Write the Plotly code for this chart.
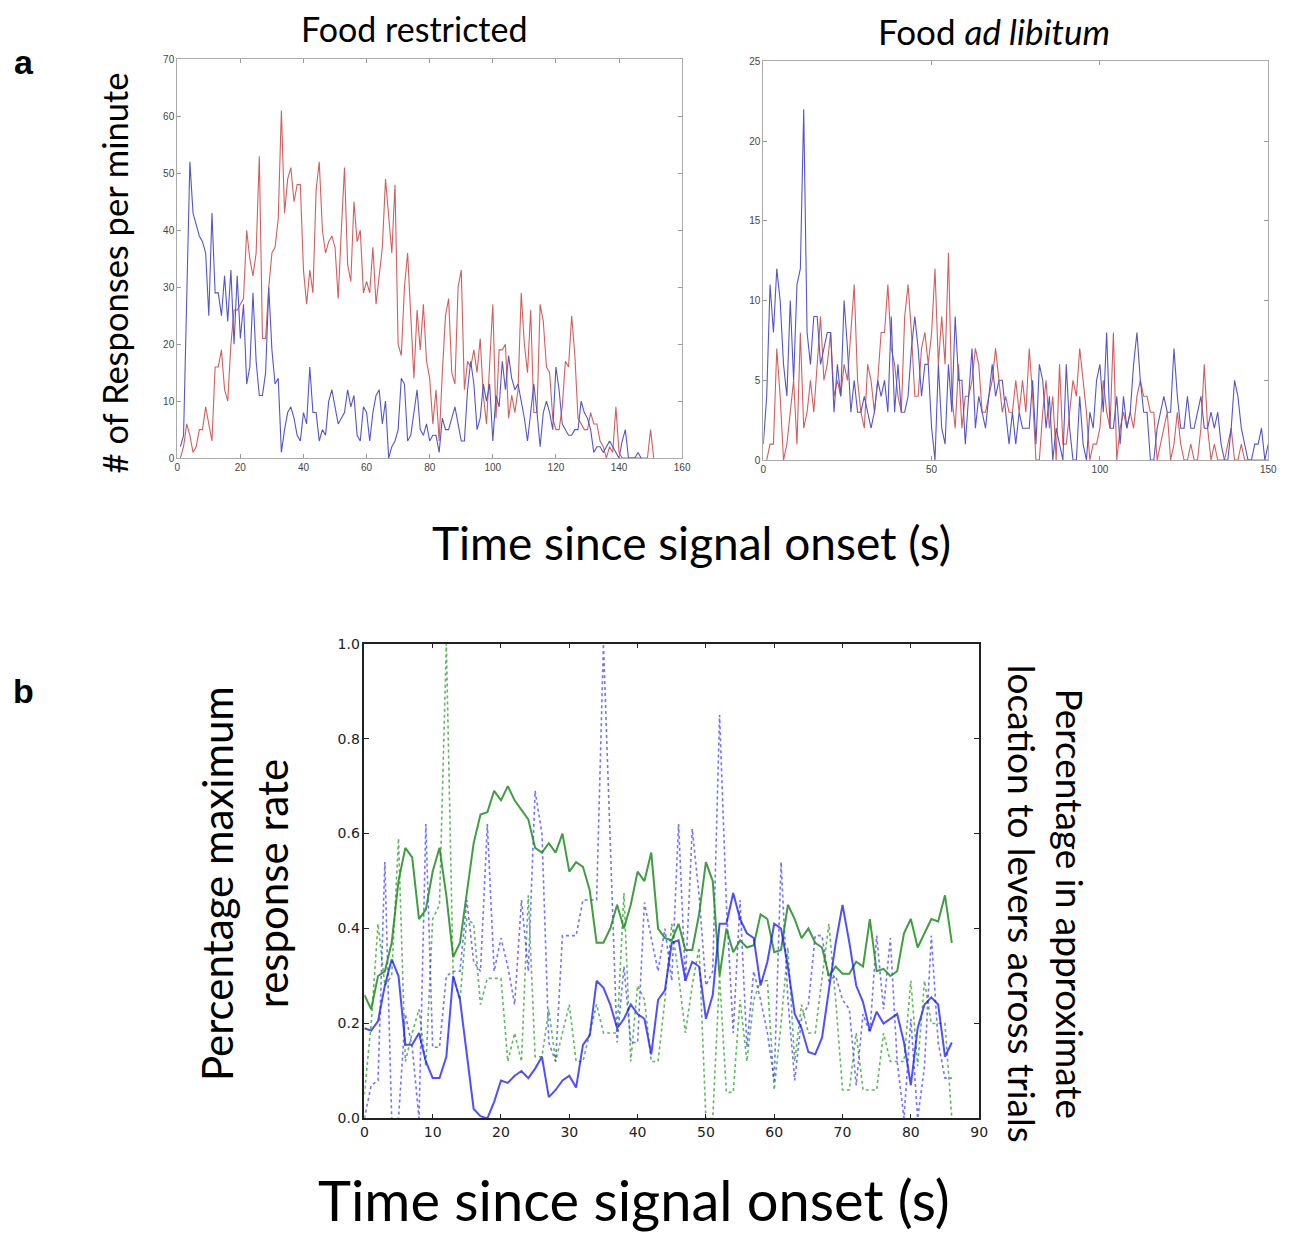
import plotly.graph_objects as go

# ---------------- Panel a (left): Food restricted ----------------
restricted_red = [0, 2, 6, 4, 1, 2, 5, 5, 9, 6, 3, 16, 16, 19, 12, 10, 20, 26, 26, 27,
                  28, 40, 35, 32, 36, 53, 21, 21, 30, 36, 37, 42, 61, 43, 49, 51, 45, 48, 48, 33,
                  27, 33, 29, 47, 52, 40, 36, 38, 39, 37, 28, 40, 51, 34, 31, 45, 38, 40, 29, 31,
                  29, 37, 27, 32, 37, 49, 43, 36, 48, 20, 18, 30, 36, 26, 14, 26, 19, 27, 17, 14,
                  6, 12, 3, 15, 25, 28, 15, 13, 30, 33, 12, 17, 16, 19, 15, 21, 11, 6, 16, 27,
                  7, 19, 19, 20, 7, 11, 8, 12, 29, 20, 15, 26, 8, 8, 27, 24, 16, 15, 7, 5,
                  5, 9, 17, 16, 25, 18, 7, 6, 5, 5, 8, 6, 6, 3, 2, 0, 2, 1, 9, 1,
                  0, 0, 0, 0, 0, 0, 0, 0, 0, 5, 0]
restricted_blue = [2, 4, 28, 52, 43, 41, 39, 38, 36, 25, 43, 29, 29, 25, 32, 24, 33, 20, 32, 21,
                   27, 13, 16, 29, 17, 11, 11, 15, 30, 19, 13, 14, 1, 5, 8, 9, 7, 4, 3, 8,
                   6, 16, 8, 8, 3, 5, 4, 10, 12, 9, 6, 7, 8, 12, 9, 11, 4, 3, 9, 8,
                   3, 8, 11, 12, 6, 10, 0, 2, 3, 5, 14, 13, 3, 4, 8, 12, 5, 4, 6, 3,
                   4, 4, 1, 7, 5, 5, 7, 9, 6, 3, 3, 12, 17, 13, 5, 7, 13, 10, 13, 3,
                   11, 9, 17, 12, 18, 14, 12, 13, 10, 7, 3, 8, 13, 8, 2, 8, 10, 8, 5, 16,
                   12, 6, 5, 4, 4, 5, 5, 10, 8, 7, 5, 1, 2, 2, 1, 2, 3, 2, 1, 0,
                   3, 5, 0, 0, 0, 1, 0]
restricted_t_red = list(range(1, len(restricted_red) + 1))
restricted_t_blue = list(range(1, len(restricted_blue) + 1))

# ---------------- Panel a (right): Food ad libitum ----------------
adlib_blue = [1, 4, 11, 8, 12, 10, 6, 4, 10, 5, 11, 12, 22, 8, 6, 9, 9, 6, 7, 8,
              8, 3, 6, 4, 10, 7, 3, 5, 3, 3, 4, 3, 2, 3, 5, 4, 5, 3, 9, 3,
              6, 3, 3, 4, 7, 9, 7, 4, 6, 6, 2, 0, 6, 2, 1, 6, 3, 9, 5, 5,
              1, 4, 7, 2, 4, 3, 2, 4, 6, 4, 5, 5, 3, 1, 3, 1, 3, 2, 2, 2,
              5, 1, 6, 5, 2, 4, 0, 2, 1, 0, 6, 2, 0, 0, 4, 1, 0, 3, 2, 5,
              6, 3, 8, 2, 2, 4, 1, 4, 2, 3, 6, 8, 5, 3, 3, 0, 0, 2, 3, 4,
              3, 3, 7, 4, 2, 2, 4, 2, 2, 3, 4, 2, 2, 3, 2, 3, 1, 0, 0, 2,
              5, 4, 2, 1, 0, 0, 1, 1, 2, 0, 1]
adlib_red = [0, 1, 1, 7, 4, 0, 1, 3, 5, 1, 8, 2, 3, 5, 3, 6, 9, 5, 6, 8,
             4, 5, 4, 6, 5, 8, 11, 5, 3, 2, 6, 5, 3, 5, 8, 8, 11, 7, 6, 4,
             3, 9, 11, 8, 4, 4, 7, 8, 6, 8, 12, 6, 9, 6, 13, 4, 2, 6, 2, 4,
             4, 5, 7, 6, 3, 3, 4, 5, 7, 5, 3, 4, 3, 3, 5, 3, 5, 3, 7, 4,
             0, 0, 3, 5, 2, 4, 0, 6, 1, 1, 3, 5, 4, 7, 5, 3, 0, 1, 1, 2,
             5, 3, 2, 8, 0, 2, 3, 2, 3, 2, 4, 5, 4, 4, 3, 3, 0, 1, 2, 3,
             0, 1, 3, 1, 0, 0, 1, 0, 0, 2, 6, 2, 0, 1, 0, 0, 0, 1, 2, 0,
             0, 1, 0, 0, 0, 0, 0, 0, 0, 0]
adlib_t_blue = list(range(0, len(adlib_blue)))
adlib_t_red = list(range(1, len(adlib_red) + 1))

# ---------------- Panel b ----------------
b_time = list(range(0, 87))
green_solid = [0.26, 0.23, 0.30, 0.31, 0.37, 0.50, 0.57, 0.55, 0.42, 0.44,
               0.52, 0.57, 0.47, 0.34, 0.37, 0.47, 0.58, 0.64, 0.645, 0.69,
               0.67, 0.70, 0.67, 0.65, 0.63, 0.57, 0.56, 0.58, 0.56, 0.60,
               0.52, 0.54, 0.53, 0.48, 0.37, 0.37, 0.40, 0.45, 0.40, 0.45,
               0.52, 0.50, 0.56, 0.40, 0.38, 0.375, 0.41, 0.355, 0.355, 0.43,
               0.54, 0.50, 0.30, 0.40, 0.35, 0.375, 0.36, 0.365, 0.43, 0.42,
               0.35, 0.355, 0.45, 0.42, 0.38, 0.40, 0.37, 0.36, 0.30, 0.32,
               0.305, 0.305, 0.33, 0.32, 0.42, 0.31, 0.315, 0.30, 0.31, 0.39,
               0.42, 0.36, 0.39, 0.42, 0.415, 0.47, 0.37]
blue_solid = [0.19, 0.185, 0.205, 0.28, 0.335, 0.30, 0.155, 0.155, 0.18, 0.12,
              0.085, 0.085, 0.13, 0.30, 0.25, 0.14, 0.02, 0.005, 0.0, 0.035,
              0.08, 0.075, 0.09, 0.10, 0.085, 0.105, 0.13, 0.045, 0.06, 0.08,
              0.09, 0.065, 0.155, 0.175, 0.29, 0.275, 0.24, 0.19, 0.21, 0.24,
              0.22, 0.21, 0.135, 0.25, 0.27, 0.37, 0.375, 0.29, 0.33, 0.32,
              0.21, 0.26, 0.41, 0.41, 0.475, 0.42, 0.39, 0.38, 0.28, 0.33,
              0.41, 0.40, 0.32, 0.22, 0.19, 0.14, 0.135, 0.17, 0.27, 0.37,
              0.45, 0.37, 0.28, 0.245, 0.185, 0.225, 0.20, 0.21, 0.22, 0.16,
              0.07, 0.19, 0.24, 0.255, 0.24, 0.13, 0.16]
blue_dotted = [0.0, 0.07, 0.08, 0.54, 0.0, 0.0, 0.22, 0.15, 0.0, 0.62,
               0.15, 0.15, 0.30, 0.31, 0.31, 0.46, 0.33, 0.31, 0.62, 0.31,
               0.38, 0.32, 0.24, 0.46, 0.31, 0.69, 0.60, 0.16, 0.12, 0.385,
               0.385, 0.385, 0.46, 0.46, 0.46, 1.0, 0.60, 0.16, 0.32, 0.16,
               0.16, 0.455, 0.38, 0.31, 0.40, 0.29, 0.62, 0.29, 0.61, 0.47,
               0.28, 0.31, 0.85, 0.45, 0.18, 0.46, 0.15, 0.31, 0.25, 0.18,
               0.08, 0.54, 0.25, 0.08, 0.21, 0.24, 0.385, 0.385, 0.29, 0.30,
               0.25, 0.23, 0.07, 0.22, 0.18, 0.385, 0.23, 0.38, 0.12, 0.0,
               0.21, 0.0, 0.11, 0.385, 0.16, 0.085, 0.085]
green_dotted = [0.05, 0.20, 0.41, 0.28, 0.30, 0.59, 0.12, 0.18, 0.23, 0.11,
                0.42, 0.45, 1.0, 0.30, 0.25, 0.42, 0.41, 0.24, 0.295, 0.295,
                0.295, 0.12, 0.18, 0.12, 0.47, 0.13, 0.13, 0.23, 0.12, 0.18,
                0.24, 0.12, 0.12, 0.18, 0.24, 0.18, 0.18, 0.18, 0.475, 0.12,
                0.28, 0.25, 0.12, 0.12, 0.25, 0.41, 0.30, 0.18, 0.28, 0.36,
                0.0, 0.0, 0.30, 0.055, 0.055, 0.25, 0.12, 0.25, 0.29, 0.29,
                0.06, 0.20, 0.36, 0.12, 0.24, 0.18, 0.18, 0.30, 0.41, 0.25,
                0.06, 0.06, 0.18, 0.06, 0.06, 0.06, 0.18, 0.12, 0.12, 0.12,
                0.29, 0.11, 0.29, 0.20, 0.20, 0.20, 0.0]

W, H = 1299, 1238
def fx(px):
    return px / W
def fy(py):
    return 1 - py / H

RED_A = "rgb(210,95,95)"
BLUE_A = "rgb(85,85,200)"
GREEN_B = "rgba(30,140,30,0.85)"
BLUE_B = "rgba(20,20,255,0.75)"

fig = go.Figure()
fig.add_trace(go.Scatter(x=restricted_t_red, y=restricted_red, mode="lines",
                         line=dict(color=RED_A, width=1.1), xaxis="x", yaxis="y"))
fig.add_trace(go.Scatter(x=restricted_t_blue, y=restricted_blue, mode="lines",
                         line=dict(color=BLUE_A, width=1.1), xaxis="x", yaxis="y"))
fig.add_trace(go.Scatter(x=adlib_t_red, y=adlib_red, mode="lines",
                         line=dict(color=RED_A, width=1.1), xaxis="x2", yaxis="y2"))
fig.add_trace(go.Scatter(x=adlib_t_blue, y=adlib_blue, mode="lines",
                         line=dict(color=BLUE_A, width=1.1), xaxis="x2", yaxis="y2"))
fig.add_trace(go.Scatter(x=b_time, y=green_dotted, mode="lines",
                         line=dict(color="rgba(40,160,40,0.75)", width=1.6, dash="dot"),
                         xaxis="x3", yaxis="y3"))
fig.add_trace(go.Scatter(x=b_time, y=blue_dotted, mode="lines",
                         line=dict(color="rgba(40,40,255,0.65)", width=1.6, dash="dot"),
                         xaxis="x3", yaxis="y3"))
fig.add_trace(go.Scatter(x=b_time, y=green_solid, mode="lines",
                         line=dict(color=GREEN_B, width=2), xaxis="x3", yaxis="y3"))
fig.add_trace(go.Scatter(x=b_time, y=blue_solid, mode="lines",
                         line=dict(color=BLUE_B, width=2), xaxis="x3", yaxis="y3"))

tick_a = dict(ticks="inside", ticklen=4, tickcolor="#999", showline=True, linecolor="#aaa",
              linewidth=1, mirror="allticks", showgrid=False, zeroline=False,
              tickfont=dict(family="Liberation Sans", size=10, color="#444"))
tick_b = dict(ticks="inside", ticklen=5, tickcolor="#222", showline=True, linecolor="#222",
              linewidth=1.5, mirror="allticks", showgrid=False, zeroline=False,
              tickfont=dict(family="DejaVu Sans", size=14, color="#222"))

fig.update_layout(
    width=W, height=H, margin=dict(l=0, r=0, t=0, b=0),
    paper_bgcolor="white", plot_bgcolor="white", showlegend=False,
    xaxis=dict(domain=[fx(175), fx(685)], range=[0, 160], tickvals=list(range(0, 161, 20)),
               anchor="y", **tick_a),
    yaxis=dict(domain=[fy(456), fy(52)], range=[0, 70], tickvals=list(range(0, 71, 10)),
               anchor="x", **tick_a),
    xaxis2=dict(domain=[fx(767), fx(1277)], range=[0, 150], tickvals=[0, 50, 100, 150],
                anchor="y2", **tick_a),
    yaxis2=dict(domain=[fy(458), fy(54)], range=[0, 25], tickvals=[0, 5, 10, 15, 20, 25],
                anchor="x2", **tick_a),
    xaxis3=dict(domain=[fx(364), fx(985)], range=[0, 90], tickvals=list(range(0, 91, 10)),
                anchor="y3", **tick_b),
    yaxis3=dict(domain=[fy(1125), fy(644)], range=[0, 1.0],
                tickvals=[0, 0.2, 0.4, 0.6, 0.8, 1.0],
                ticktext=["0.0", "0.2", "0.4", "0.6", "0.8", "1.0"],
                anchor="x3", **tick_b),
)

TXT = "Lato"
ann = [
    dict(text="<b>a</b>", x=fx(20), y=fy(55), font=dict(family="Liberation Sans", size=34, color="black")),
    dict(text="<b>b</b>", x=fx(20), y=fy(692), font=dict(family="Liberation Sans", size=34, color="black")),
    dict(text="Food restricted", x=fx(414), y=fy(21), font=dict(family=TXT, size=34, color="black")),
    dict(text="Food <i>ad libitum</i>", x=fx(1000), y=fy(23), font=dict(family=TXT, size=35, color="black")),
    dict(text="# of Responses per minute", x=fx(112), y=fy(268), textangle=-90,
         font=dict(family=TXT, size=34.5, color="black")),
    dict(text="Time since signal onset (s)", x=fx(694), y=fy(541),
         font=dict(family=TXT, size=46, color="black")),
    dict(text="Percentage maximum<br>response rate", x=fx(243), y=fy(887), textangle=-90,
         font=dict(family=TXT, size=42, color="black")),
    dict(text="Percentage in approximate<br>location to levers across trials", x=fx(1053), y=fy(908),
         textangle=90, font=dict(family=TXT, size=37, color="black")),
    dict(text="Time since signal onset (s)", x=fx(636), y=fy(1207),
         font=dict(family=TXT, size=56, color="black")),
]
for a in ann:
    a.update(xref="paper", yref="paper", showarrow=False, xanchor="center", yanchor="middle")
fig.update_layout(annotations=ann)

fig.write_html("out.html")
